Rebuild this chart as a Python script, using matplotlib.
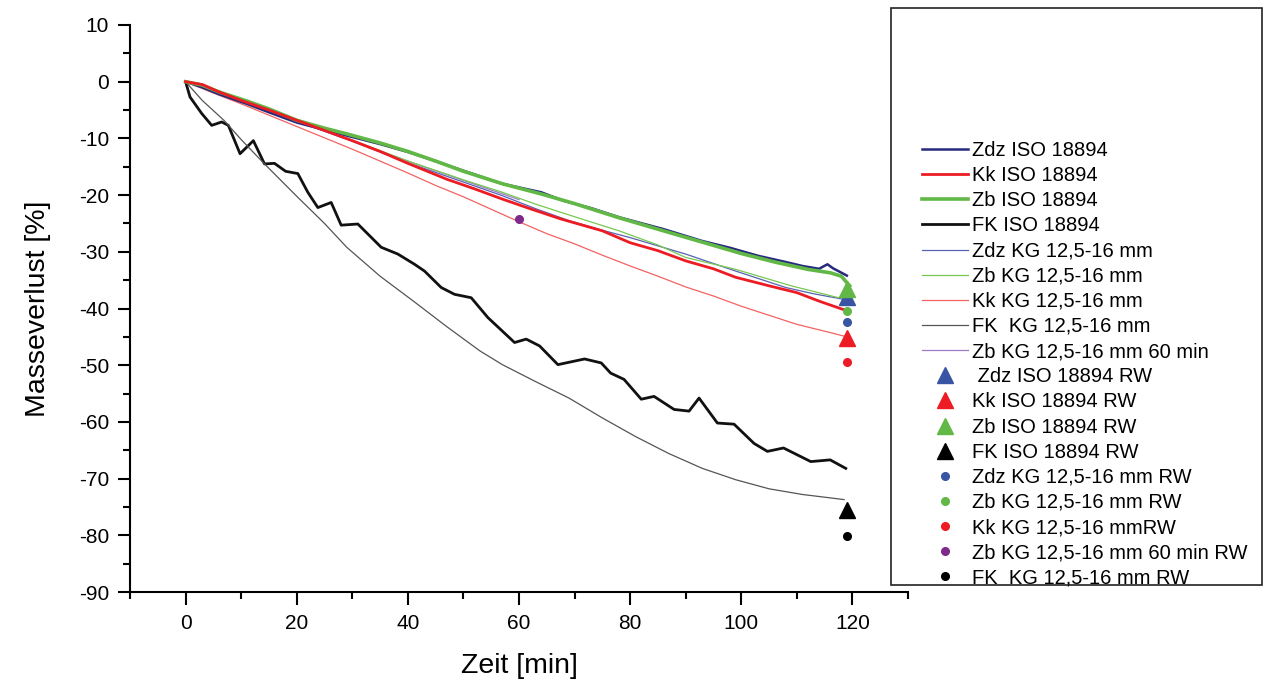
import matplotlib
matplotlib.use("Agg")
import matplotlib.pyplot as plt
from matplotlib.patches import Rectangle
from matplotlib.ticker import MultipleLocator

plt.rcParams['font.family'] = ['Liberation Sans', 'DejaVu Sans']
plt.rcParams['axes.unicode_minus'] = False

# ---------------- data ----------------
t_zdz_iso = [0, 3, 6, 11, 15, 20, 25, 29, 35, 40, 45, 50, 57, 64, 68, 73, 78, 86, 93, 98, 103, 108, 111, 114, 115.5, 116.5, 119]
v_zdz_iso = [0, -1, -2.2, -3.9, -5.4, -7.2, -8.5, -9.5, -11, -12.4, -14, -15.7, -18, -19.5, -21, -22.3, -23.9, -26, -28.1, -29.3, -30.7, -31.8, -32.5, -33, -32.2, -32.9, -34.2]

t_kk_iso = [0, 3, 6, 10, 15, 20, 25, 30, 35, 40, 47, 52, 57, 62, 67.5, 75, 80, 85, 90, 95, 99, 105, 110, 114, 119]
v_kk_iso = [0, -0.5, -1.8, -3.3, -5, -6.8, -8.6, -10.4, -12.3, -14.4, -17.2, -18.9, -20.7, -22.4, -24.2, -26.3, -28.4, -29.8, -31.6, -33, -34.5, -36, -37.2, -38.7, -40.4]

t_zb_iso = [0, 3, 6, 11, 15, 20, 25, 29, 35, 40, 45, 50, 57, 64, 70, 78, 86, 93, 100, 106, 112, 116, 118, 119.5]
v_zb_iso = [0, -0.6, -1.8, -3.4, -4.8, -6.8, -8.2, -9.2, -10.8, -12.3, -14, -15.8, -18, -19.8, -21.5, -24, -26.3, -28.3, -30.3, -31.8, -33.1, -33.7, -34.3, -36]

t_fk_iso = [0, 0.8, 2.9, 4.7, 6.5, 7.7, 9.8, 12.2, 14.2, 16, 18, 20.2, 22, 23.8, 26.2, 28, 31, 35.2, 38.2, 41.2, 43,
            46, 48.4, 51.4, 54.4, 56.8, 59.2, 61.3, 63.7, 67, 71.8, 74.8, 76.5, 78.9, 82, 84.3, 87.9, 90.6, 92.4,
            95.7, 98.7, 102.3, 104.7, 107.6, 112.5, 116, 118.8]
v_fk_iso = [0, -2.7, -5.6, -7.7, -7.1, -7.7, -12.7, -10.4, -14.5, -14.4, -15.8, -16.2, -19.5, -22.2, -21.3, -25.3, -25.1, -29.2, -30.4, -32.2, -33.4,
            -36.3, -37.5, -38.1, -41.6, -43.8, -46, -45.4, -46.6, -49.9, -48.9, -49.6, -51.4, -52.5, -56, -55.5, -57.8, -58.1, -55.8,
            -60.2, -60.4, -63.8, -65.2, -64.6, -67, -66.7, -68.2]

t_zdz_kg = [0, 5, 10, 20, 30, 40, 50, 57, 63, 69, 75, 80, 90, 99, 108, 113, 118.5]
v_zdz_kg = [0, -1.6, -3.4, -7, -10.5, -14.3, -17.7, -20.1, -22.4, -24.5, -26.2, -27.5, -30.4, -33.4, -36.3, -37.4, -38.4]

t_zb_kg = [0, 5, 10, 20, 30, 40, 50, 57, 63, 69, 78, 85, 90, 99, 109, 117.5]
v_zb_kg = [0, -1.5, -3.2, -6.8, -10.3, -14, -17.3, -19.5, -21.6, -23.5, -26.3, -28.8, -31, -33.1, -36, -38.1]

t_kk_kg = [0, 5, 10, 15, 20, 25, 30, 35, 40, 45, 50, 55, 60, 65, 70, 75, 80, 85, 90, 95, 100, 105, 110, 115, 119]
v_kk_kg = [0, -2, -3.9, -5.9, -7.9, -9.9, -11.9, -14, -16.1, -18.3, -20.3, -22.5, -24.7, -26.8, -28.6, -30.6, -32.5, -34.3, -36.2, -37.8, -39.6, -41.2, -42.8, -44, -45]

t_fk_kg = [0, 3, 7, 10, 14, 20, 25, 29, 35, 41, 47, 53, 57, 63, 69, 75, 81, 87, 93, 99, 105, 111, 116, 118.5]
v_fk_kg = [0, -3.3, -6.9, -10.2, -14.3, -20.2, -25, -29.2, -34.3, -38.7, -43.2, -47.5, -49.9, -52.9, -55.8, -59.3, -62.6, -65.6, -68.2, -70.2, -71.8, -72.8, -73.4, -73.7]

t_zb_kg60 = [0, 5, 10, 20, 30, 40, 50, 60]
v_zb_kg60 = [0, -1.6, -3.3, -6.9, -10.4, -14, -17.4, -20.8]

# end-point reference values (RW)
rw_tri_labels = [' Zdz ISO 18894 RW', 'Kk ISO 18894 RW', 'Zb ISO 18894 RW', 'FK ISO 18894 RW']
rw_tri_t = [119, 119, 119, 119]
rw_tri_v = [-38, -45.2, -36.5, -75.5]

rw_dot_labels = ['Zdz KG 12,5-16 mm RW', 'Zb KG 12,5-16 mm RW', 'Kk KG 12,5-16 mmRW',
                 'Zb KG 12,5-16 mm 60 min RW', 'FK  KG 12,5-16 mm RW']
rw_dot_t = [119, 119, 119, 60, 119]
rw_dot_v = [-42.4, -40.4, -49.5, -24.2, -80.2]

# ---------------- styling ----------------
fig = plt.figure(figsize=(12.66, 6.80), dpi=100)
ax = fig.add_axes([130/1266, 1 - 592/680, (908-130)/1266, (592-25)/680])

navy = '#252a7e'
red = '#ed1c24'
green = '#62b846'
lines_spec = [
    (t_zdz_iso, v_zdz_iso, 'Zdz ISO 18894', navy, 1.8),
    (t_kk_iso, v_kk_iso, 'Kk ISO 18894', red, 2.0),
    (t_zb_iso, v_zb_iso, 'Zb ISO 18894', green, 2.6),
    (t_fk_iso, v_fk_iso, 'FK ISO 18894', '#111111', 2.0),
    (t_zdz_kg, v_zdz_kg, 'Zdz KG 12,5-16 mm', '#5862b5', 0.9),
    (t_zb_kg, v_zb_kg, 'Zb KG 12,5-16 mm', '#78c850', 0.9),
    (t_kk_kg, v_kk_kg, 'Kk KG 12,5-16 mm', '#f46262', 0.9),
    (t_fk_kg, v_fk_kg, 'FK  KG 12,5-16 mm', '#555555', 0.9),
    (t_zb_kg60, v_zb_kg60, 'Zb KG 12,5-16 mm 60 min', '#9a7cc8', 0.9),
]
order_z = [3, 5, 4, 2, 2, 2, 2, 2, 1]
for (t, v, lab, c, lw), z in zip(lines_spec, order_z):
    ax.plot(t, v, color=c, lw=lw, label=lab, zorder=z)

tri_colors = ['#3a54a4', red, green, '#000000']
for t, v, lab, c in zip(rw_tri_t, rw_tri_v, rw_tri_labels, tri_colors):
    ax.plot([t], [v], linestyle='none', marker='^', ms=12, color=c, label=lab, zorder=6)

dot_colors = ['#3a54a4', green, red, '#7d2a8a', '#000000']
for t, v, lab, c in zip(rw_dot_t, rw_dot_v, rw_dot_labels, dot_colors):
    ax.plot([t], [v], linestyle='none', marker='o', ms=5.5, color=c, label=lab, zorder=6)

ax.set_xlim(-10, 130)
ax.set_ylim(-90, 10)
ax.xaxis.set_major_locator(MultipleLocator(20))
ax.xaxis.set_minor_locator(MultipleLocator(10))
ax.yaxis.set_major_locator(MultipleLocator(10))
ax.yaxis.set_minor_locator(MultipleLocator(5))
for s in ['top', 'right']:
    ax.spines[s].set_visible(False)
for s in ['left', 'bottom']:
    ax.spines[s].set_linewidth(1.5)
ax.tick_params(which='major', direction='out', length=9, width=1.5, labelsize=15)
ax.tick_params(axis='y', which='major', pad=6)
ax.tick_params(axis='x', which='major', pad=7)
ax.tick_params(which='minor', direction='out', length=5, width=1.5)
ax.set_xticks([0, 20, 40, 60, 80, 100, 120])
ax.set_xlabel('Zeit [min]', fontsize=20.5, labelpad=14)
ax.set_ylabel('Masseverlust [%]', fontsize=20.5, labelpad=20)

# legend box
rect = Rectangle((891/1266, 1 - 585/680), (1262-891)/1266, (585-8)/680,
                 transform=fig.transFigure, facecolor='white', edgecolor='#222222',
                 linewidth=1.2, zorder=10)
fig.patches.append(rect)
leg = fig.legend(loc='upper left', bbox_to_anchor=(922/1266, 1 - 141/680), frameon=False,
                 fontsize=14.5, handlelength=2.28, handletextpad=0.2, labelspacing=0.305,
                 borderpad=0, borderaxespad=0)
leg.set_zorder(11)

fig.savefig('out.png', dpi=100)
